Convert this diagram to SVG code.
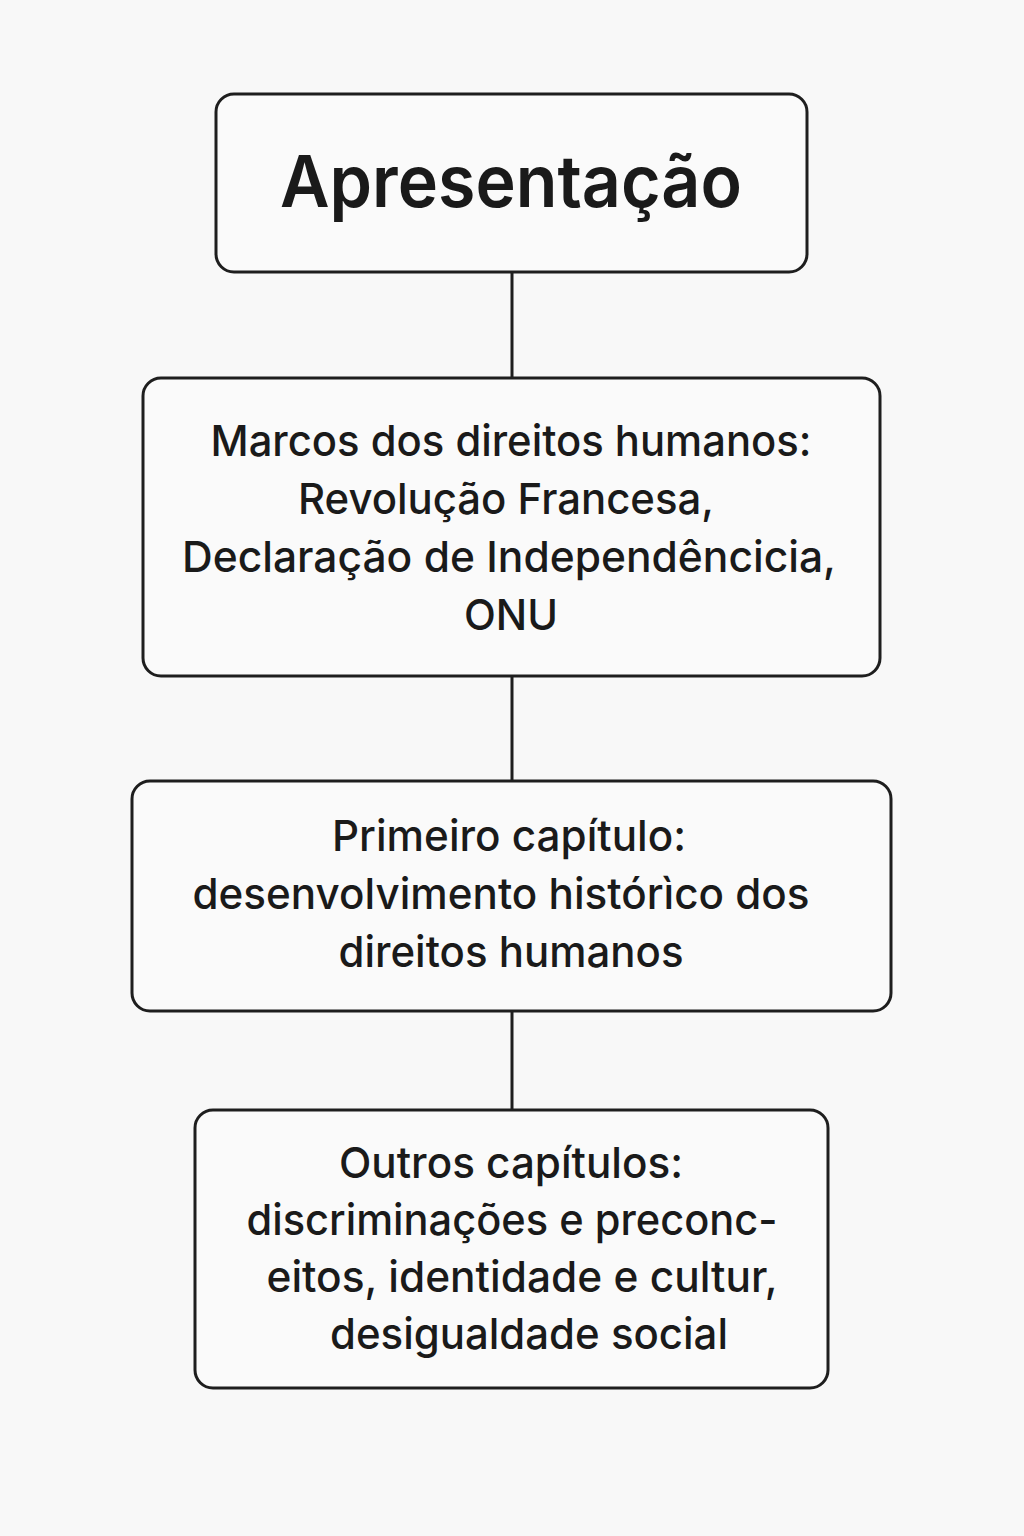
<svg xmlns="http://www.w3.org/2000/svg" width="1024" height="1536" viewBox="0 0 1024 1536">
<style>
.box{fill:#fafafa;stroke:#1e1e1e;stroke-width:3}
.t{font-family:Inter,"Liberation Sans",sans-serif;fill:#1a1a1a;text-anchor:middle;font-weight:500}
.b{font-size:43px}
.h{font-size:72px;font-weight:600}
.conn{stroke:#1e1e1e;stroke-width:3;fill:none}
</style>
<rect width="1024" height="1536" fill="#f8f8f8"/>
<g id="connectors">
<line class="conn" x1="512" y1="272" x2="512" y2="378"/>
<line class="conn" x1="512" y1="676" x2="512" y2="781"/>
<line class="conn" x1="512" y1="1011" x2="512" y2="1110"/>
</g>
<g id="n1">
<rect class="box" x="216" y="94" width="591" height="178" rx="18"/>
<text class="t h" x="511" y="207" textLength="462" lengthAdjust="spacingAndGlyphs">Apresentação</text>
</g>
<g id="n2">
<rect class="box" x="143" y="378" width="737" height="298" rx="18"/>
<text class="t b" x="511" y="456" textLength="601" lengthAdjust="spacingAndGlyphs">Marcos dos direitos humanos:</text>
<text class="t b" x="506" y="514" textLength="416" lengthAdjust="spacingAndGlyphs">Revolução Francesa,</text>
<text class="t b" x="509" y="572" textLength="654" lengthAdjust="spacingAndGlyphs">Declaração de Independêncicia,</text>
<text class="t b" x="511" y="630" textLength="94" lengthAdjust="spacingAndGlyphs">ONU</text>
</g>
<g id="n3">
<rect class="box" x="132" y="781" width="759" height="230" rx="18"/>
<text class="t b" x="509" y="851" textLength="354" lengthAdjust="spacingAndGlyphs">Primeiro capítulo:</text>
<text class="t b" x="501" y="909" textLength="617" lengthAdjust="spacingAndGlyphs">desenvolvimento histórìco dos</text>
<text class="t b" x="511" y="967" textLength="345" lengthAdjust="spacingAndGlyphs">direitos humanos</text>
</g>
<g id="n4">
<rect class="box" x="195" y="1110" width="633" height="278" rx="18"/>
<text class="t b" x="511" y="1178" textLength="344" lengthAdjust="spacingAndGlyphs">Outros capítulos:</text>
<text class="t b" x="512" y="1235" textLength="531" lengthAdjust="spacingAndGlyphs">discriminações e preconc-</text>
<text class="t b" x="522" y="1292" textLength="511" lengthAdjust="spacingAndGlyphs">eitos, identidade e cultur,</text>
<text class="t b" x="529" y="1349" textLength="398" lengthAdjust="spacingAndGlyphs">desigualdade social</text>
</g>
</svg>
